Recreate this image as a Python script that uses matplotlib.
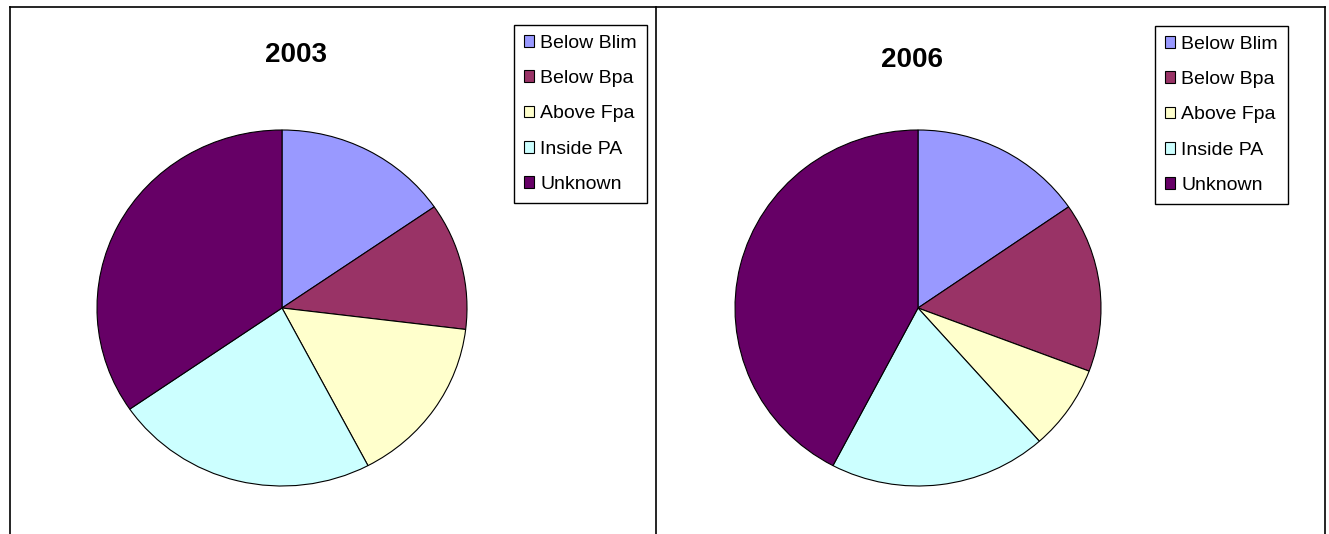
import matplotlib.pyplot as plt
from matplotlib.patches import Patch
from matplotlib.lines import Line2D

plt.rcParams['font.family'] = ['Liberation Sans', 'DejaVu Sans']

categories = ['Below Blim', 'Below Bpa', 'Above Fpa', 'Inside PA', 'Unknown']
colors = ['#9999FF', '#993366', '#FFFFCC', '#CCFFFF', '#660066']
counts_2003 = [4, 3, 4, 6, 9]
counts_2006 = [4, 4, 2, 5, 11]

W, H = 1329, 534
fig = plt.figure(figsize=(W / 100, H / 100), dpi=100)


def px_axes(x0, y0, x1, y1):
    # pixel box (top-left origin) -> figure fraction axes
    return fig.add_axes([x0 / W, 1 - y1 / H, (x1 - x0) / W, (y1 - y0) / H])


def draw_panel(values, title, pie_box, title_xy, legend_xy):
    ax = px_axes(*pie_box)
    ax.pie(values, colors=colors, startangle=90, counterclock=False,
           wedgeprops=dict(edgecolor='black', linewidth=0.8))
    ax.set_aspect('auto')
    ax.set_xlim(-1, 1)
    ax.set_ylim(-1, 1)
    ax.axis('off')
    fig.text(title_xy[0] / W, 1 - title_xy[1] / H, title, ha='center', va='center',
             fontsize=20, fontweight='bold')
    handles = [Patch(facecolor=c, edgecolor='black', linewidth=0.8) for c in colors]
    leg = fig.legend(handles, categories, loc='upper left',
                     bbox_to_anchor=(legend_xy[0] / W, 1 - legend_xy[1] / H),
                     bbox_transform=fig.transFigure, fontsize=14,
                     handlelength=0.55, handleheight=0.55, handletextpad=0.3,
                     labelspacing=0.94, borderpad=0.5, borderaxespad=0,
                     fancybox=False, framealpha=1)
    leg.get_frame().set_edgecolor('black')
    leg.get_frame().set_linewidth(1.0)


draw_panel(counts_2003, '2003', (97, 130, 467, 486), (296, 55), (514, 25))
draw_panel(counts_2006, '2006', (735, 130, 1101, 486), (912, 60), (1155, 26))

# panel borders
for xs, ys in [([10, 10], [7, H]), ([10, 1325], [7, 7]), ([656, 656], [7, H]),
               ([1325, 1325], [7, H])]:
    fig.add_artist(Line2D([x / W for x in xs], [1 - y / H for y in ys],
                          color='black', linewidth=1.2, transform=fig.transFigure))

fig.savefig('out.png', dpi=100)
